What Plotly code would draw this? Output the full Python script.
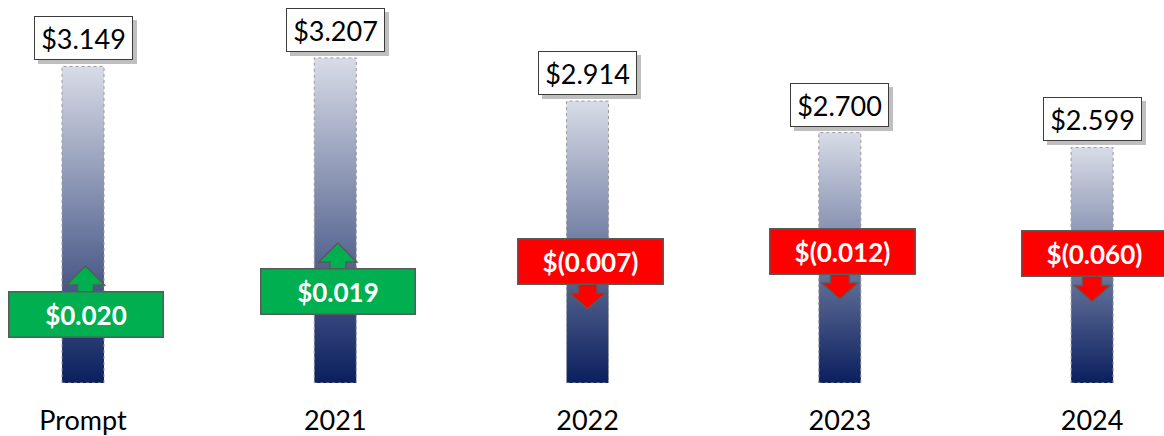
import plotly.graph_objects as go

categories = ["Prompt", "2021", "2022", "2023", "2024"]
values = [3.149, 3.207, 2.914, 2.700, 2.599]
changes = [0.020, 0.019, -0.007, -0.012, -0.060]

# layout / style settings (not data)
BASE = 1.0
BAR_W = 0.1665
change_label_y = [1.465, 1.621, 1.825, 1.893, 1.876]
FONT = "Lato"

fig = go.Figure()

for i, (cat, v) in enumerate(zip(categories, values)):
    xs = [i - BAR_W / 2, i + BAR_W / 2, i + BAR_W / 2, i - BAR_W / 2, i - BAR_W / 2]
    ys = [BASE, BASE, v, v, BASE]
    fig.add_trace(go.Scatter(
        x=xs, y=ys, mode="lines", fill="toself", name=cat,
        line=dict(color="#9a9a9a", width=1, dash="dot"),
        fillgradient=dict(type="vertical",
                          colorscale=[[0, "#0A1F5E"], [1, "#D8DCE7"]]),
        hoverinfo="skip", showlegend=False,
    ))

annotations = []
shapes = []

# value labels with shadow
for i, v in enumerate(values):
    annotations.append(dict(
        x=i, y=v, xref="x", yref="y", text="", showarrow=False,
        xanchor="center", yanchor="bottom", yshift=2, xshift=4,
        width=99, height=44, bgcolor="rgba(60,60,60,0.33)",
        borderwidth=0, borderpad=0,
    ))
    annotations.append(dict(
        x=i, y=v, xref="x", yref="y", text=f"${v:.3f}", showarrow=False,
        xanchor="center", yanchor="bottom", yshift=6,
        width=97, height=42, bgcolor="white", bordercolor="#3c3c3c",
        borderwidth=1, borderpad=0,
        font=dict(family=FONT, size=27, color="black"),
    ))

# change labels with block arrows
for i, (c, ly) in enumerate(zip(changes, change_label_y)):
    pos = c >= 0
    color = "#00B050" if pos else "#FF0000"
    text = f"${c:.3f}" if pos else f"$({abs(c):.3f})"
    w = 153 if pos else 144
    if pos:
        path = "M -8,18 L -8,29.5 L -19,29.5 L 0,48.5 L 19,29.5 L 8,29.5 L 8,18 Z"
    else:
        path = "M -9.5,-18 L -9.5,-31.5 L -18,-31.5 L 0,-47.5 L 18,-31.5 L 9.5,-31.5 L 9.5,-18 Z"
    shapes.append(dict(
        type="path", xref="x", yref="y", xsizemode="pixel", ysizemode="pixel",
        xanchor=i + (0.01 if pos else 0), yanchor=ly, path=path,
        fillcolor=color, line=dict(color="#5a5a5a", width=1.5), layer="above",
    ))
    annotations.append(dict(
        x=i + 0.01, y=ly, xref="x", yref="y", text=f"<b>{text}</b>", showarrow=False,
        xanchor="center", yanchor="middle",
        width=w, height=44, bgcolor=color, bordercolor="#5a5a5a",
        borderwidth=1.5, borderpad=0,
        font=dict(family=FONT, size=26, color="white"),
    ))

fig.update_layout(
    width=1164, height=436,
    margin=dict(l=0, r=0, t=0, b=53),
    paper_bgcolor="white", plot_bgcolor="white",
    showlegend=False,
    annotations=annotations, shapes=shapes,
    xaxis=dict(
        range=[-0.329, 4.285], tickvals=list(range(len(categories))),
        ticktext=categories, showgrid=False, zeroline=False, showline=False,
        ticks="", tickfont=dict(family=FONT, size=27, color="black"),
        ticklabelstandoff=19, fixedrange=True,
    ),
    yaxis=dict(
        range=[BASE, BASE + 383 / 147.3], visible=False, showgrid=False,
        zeroline=False, fixedrange=True,
    ),
)

fig.write_html(
    "out.html",
    config={"displayModeBar": False, "staticPlot": True},
    post_script="document.body.style.margin='0';document.body.style.overflow='hidden';",
)
